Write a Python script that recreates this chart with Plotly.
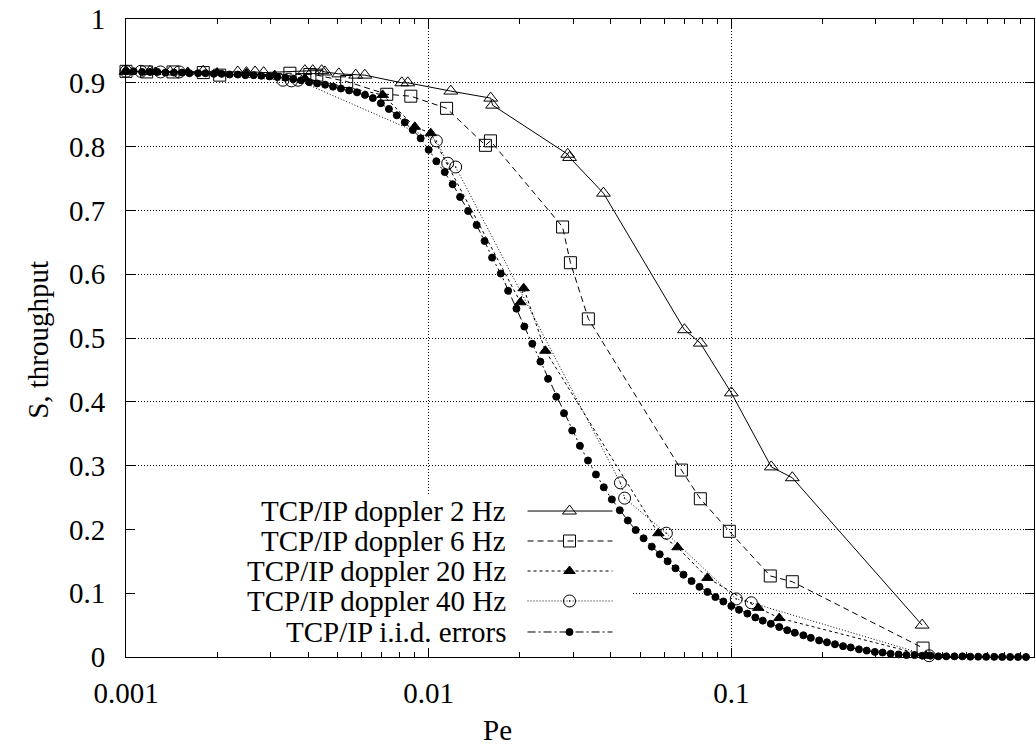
import plotly.graph_objects as go

# ---------------- data ----------------
pe_2hz = [0.001, 0.0012, 0.0014, 0.0018, 0.00234, 0.0025, 0.00267, 0.00285, 0.0039, 0.00414,
          0.00443, 0.00454, 0.00505, 0.00574, 0.00615, 0.00815, 0.00853, 0.01183, 0.01603, 0.01626,
          0.0288, 0.0292, 0.0378, 0.070, 0.079, 0.100, 0.1355, 0.159, 0.427]
s_2hz = [0.918, 0.918, 0.917, 0.918, 0.917, 0.916, 0.917, 0.916, 0.919, 0.919,
         0.919, 0.917, 0.914, 0.912, 0.912, 0.900, 0.900, 0.887, 0.876, 0.865,
         0.788, 0.783, 0.727, 0.513, 0.492, 0.414, 0.298, 0.281, 0.050]

pe_6hz = [0.001, 0.00117, 0.00143, 0.0018, 0.00204, 0.00348, 0.00405, 0.00427, 0.00536, 0.00727,
          0.00873, 0.01146, 0.0154, 0.016, 0.0277, 0.0294, 0.0337, 0.0684, 0.079, 0.0985,
          0.1345, 0.159, 0.43]
s_6hz = [0.918, 0.917, 0.917, 0.916, 0.912, 0.915, 0.913, 0.912, 0.902, 0.882,
         0.879, 0.860, 0.802, 0.809, 0.674, 0.618, 0.530, 0.293, 0.248, 0.197,
         0.127, 0.118, 0.014]

pe_20hz = [0.001, 0.00125, 0.0016, 0.002, 0.0025, 0.0031, 0.0039, 0.00705, 0.0090, 0.01016,
           0.0201, 0.0206, 0.0243, 0.0574, 0.0664, 0.0834, 0.1228, 0.144, 0.44]
s_20hz = [0.918, 0.917, 0.917, 0.916, 0.915, 0.912, 0.907, 0.881, 0.831, 0.821,
          0.556, 0.578, 0.480, 0.194, 0.172, 0.124, 0.077, 0.061, 0.002]

pe_40hz = [0.001, 0.00112, 0.0013, 0.0015, 0.0033, 0.00352, 0.0037, 0.0106, 0.01156, 0.01228,
           0.043, 0.0444, 0.061, 0.1038, 0.1164, 0.45]
s_40hz = [0.918, 0.918, 0.917, 0.917, 0.904, 0.903, 0.904, 0.809, 0.774, 0.768,
          0.273, 0.249, 0.194, 0.091, 0.085, 0.002]

pe_iid = [0.001, 0.00106, 0.00113, 0.0012, 0.00127, 0.00135, 0.00144, 0.00153, 0.00162, 0.00173,
          0.00183, 0.00195, 0.00207, 0.0022, 0.00234, 0.00248, 0.00264, 0.0028, 0.00298, 0.00316,
          0.00336, 0.00357, 0.00379, 0.00403, 0.00428, 0.00455, 0.00483, 0.00513, 0.00546, 0.0058,
          0.00616, 0.00654, 0.00695, 0.00739, 0.00785, 0.00834, 0.00886, 0.00941,
          0.01, 0.0106, 0.0113, 0.012, 0.0127, 0.0135, 0.0144, 0.0153, 0.0162, 0.0173,
          0.0183, 0.0195, 0.0207, 0.022, 0.0234, 0.0248, 0.0264, 0.028, 0.0298, 0.0316,
          0.0336, 0.0357, 0.0379, 0.0403, 0.0428, 0.0455, 0.0483, 0.0513, 0.0546, 0.058,
          0.0616, 0.0654, 0.0695, 0.0739, 0.0785, 0.0834, 0.0886, 0.0941,
          0.1, 0.106, 0.113, 0.12, 0.127, 0.135, 0.144, 0.153, 0.162, 0.173,
          0.183, 0.195, 0.207, 0.22, 0.234, 0.248, 0.264, 0.28, 0.298, 0.316,
          0.336, 0.357, 0.379, 0.403, 0.428, 0.455, 0.483, 0.513, 0.546, 0.58,
          0.616, 0.654, 0.695, 0.739, 0.785, 0.834, 0.886, 0.941]
s_iid = [0.918, 0.918, 0.917, 0.917, 0.917, 0.916, 0.916, 0.916, 0.915, 0.915,
         0.915, 0.914, 0.914, 0.913, 0.913, 0.912, 0.912, 0.911, 0.910, 0.909,
         0.908, 0.906, 0.904, 0.901, 0.899, 0.897, 0.894, 0.891, 0.888, 0.885,
         0.881, 0.876, 0.868, 0.859, 0.849, 0.838, 0.826, 0.813,
         0.795, 0.777, 0.760, 0.741, 0.721, 0.699, 0.677, 0.652, 0.626, 0.601,
         0.574, 0.546, 0.518, 0.491, 0.463, 0.436, 0.408, 0.382, 0.355, 0.331,
         0.308, 0.286, 0.266, 0.247, 0.230, 0.214, 0.199, 0.186, 0.173, 0.161,
         0.150, 0.139, 0.129, 0.119, 0.110, 0.102, 0.094, 0.087,
         0.080, 0.074, 0.068, 0.062, 0.057, 0.052, 0.047, 0.042, 0.038, 0.034,
         0.030, 0.026, 0.023, 0.020, 0.017, 0.015, 0.012, 0.010, 0.008, 0.007,
         0.005, 0.004, 0.003, 0.003, 0.002, 0.002, 0.001, 0.001, 0.001, 0.001,
         0.0005, 0.0005, 0.0003, 0.0002, 0.0001, 0.0001, 0.0, 0.0]

x_ticks = [0.001, 0.01, 0.1, 1]
x_tick_labels = ["0.001", "0.01", "0.1", "1"]
x_minor = [0.002, 0.003, 0.004, 0.005, 0.006, 0.007, 0.008, 0.009,
           0.02, 0.03, 0.04, 0.05, 0.06, 0.07, 0.08, 0.09,
           0.2, 0.3, 0.4, 0.5, 0.6, 0.7, 0.8, 0.9]

names = ["TCP/IP doppler 2 Hz", "TCP/IP doppler 6 Hz", "TCP/IP doppler 20 Hz",
         "TCP/IP doppler 40 Hz", "TCP/IP i.i.d. errors"]

# key (legend) placement, in axis units of the chart
key_rows = [0.2288, 0.1818, 0.1348, 0.0878, 0.0392]
key_line_x = [0.02122, 0.04049]
key_mark_x = 0.02920
key_text_x = 0.4207          # fraction of the plot width (right edge of the text)
key_box_x = [0.001, 0.0469, 0.0469, 0.001, 0.001]
key_box_y = [0.012, 0.012, 0.254, 0.254, 0.012]

# ---------------- styles ----------------
FONT = "Liberation Serif"
FS = 29
styles = [
    dict(dash="solid", symbol="triangle-up-open", size=12),
    dict(dash="6px,4px", symbol="square-open", size=12),
    dict(dash="3px,3px", symbol="triangle-up", size=10),
    dict(dash="1px,2px", symbol="circle-open-dot", size=12),
    dict(dash="8px,3px,2px,3px", symbol="circle", size=7),
]
series = [(pe_2hz, s_2hz), (pe_6hz, s_6hz), (pe_20hz, s_20hz), (pe_40hz, s_40hz), (pe_iid, s_iid)]

fig = go.Figure()

# opaque key box (drawn as the first trace: above the grid, below the curves)
fig.add_trace(go.Scatter(x=key_box_x, y=key_box_y, mode="lines", fill="toself",
                         fillcolor="white", line=dict(width=0, color="white"),
                         showlegend=False, hoverinfo="skip"))

for (xs, ys), st, nm in zip(series, styles, names):
    fig.add_trace(go.Scatter(
        x=xs, y=ys, mode="lines+markers", name=nm, showlegend=False, cliponaxis=False,
        line=dict(color="black", width=1, dash=st["dash"]),
        marker=dict(symbol=st["symbol"], size=st["size"], color="black",
                    line=dict(color="black", width=1)),
    ))

# gnuplot-style key: text, then line sample with its point
for st, nm, ky in zip(styles, names, key_rows):
    fig.add_trace(go.Scatter(
        x=key_line_x, y=[ky, ky], mode="lines", showlegend=False, hoverinfo="skip",
        cliponaxis=False, line=dict(color="black", width=1, dash=st["dash"])))
    fig.add_trace(go.Scatter(
        x=[key_mark_x], y=[ky], mode="markers", showlegend=False, hoverinfo="skip",
        cliponaxis=False,
        marker=dict(symbol=st["symbol"], size=st["size"], color="black",
                    line=dict(color="black", width=1))))
    fig.add_annotation(x=key_text_x, y=ky, xref="paper", yref="y", text=nm,
                       showarrow=False, xanchor="right", yanchor="middle",
                       font=dict(family=FONT, size=FS, color="black"))

grid = dict(showgrid=True, gridcolor="black", gridwidth=1, griddash="1px,2px")

fig.update_layout(
    width=1036, height=747,
    margin=dict(l=126, r=2, t=19, b=90),
    paper_bgcolor="white", plot_bgcolor="white",
    font=dict(family=FONT, size=FS, color="black"),
    xaxis=dict(type="log", range=[-3, 0], tickmode="array", tickvals=x_ticks,
               ticktext=x_tick_labels, ticks="inside", ticklen=9, tickcolor="black",
               showline=True, linecolor="black", linewidth=1, mirror="allticks",
               minor=dict(tickmode="array", tickvals=x_minor, ticks="inside", ticklen=5,
                          tickcolor="black", showgrid=False),
               ticklabelstandoff=10, zeroline=False,
               tickfont=dict(family=FONT, size=FS, color="black"), **grid),
    yaxis=dict(range=[0, 1], dtick=0.1, tick0=0, ticks="inside", ticklen=9, tickcolor="black",
               showline=True, linecolor="black", linewidth=1, mirror="allticks",
               ticklabelstandoff=14, zeroline=False,
               tickfont=dict(family=FONT, size=FS, color="black"), **grid),
    showlegend=False,
)

fig.add_annotation(x=0.4086, y=-0.115, xref="paper", yref="paper", text="Pe",
                   showarrow=False, xanchor="center", yanchor="middle",
                   font=dict(family=FONT, size=FS, color="black"))
fig.add_annotation(x=-0.097, y=0.497, xref="paper", yref="paper", text="S, throughput",
                   showarrow=False, textangle=-90, xanchor="center", yanchor="middle",
                   font=dict(family=FONT, size=FS, color="black"))

fig.write_html("out.html")
